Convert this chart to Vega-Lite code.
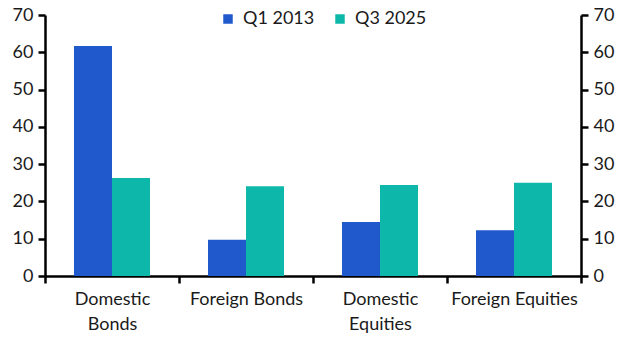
{
  "$schema": "https://vega.github.io/schema/vega-lite/v6.json",
  "autosize": "none",
  "width": 536,
  "height": 261,
  "padding": {"left": 45, "top": 15, "right": 48, "bottom": 78},
  "background": "white",
  "config": {
    "font": "Lato",
    "view": {"stroke": null},
    "axis": {"labelFont": "Lato", "labelFontSize": 18, "labelColor": "#1a1a1a", "domainColor": "black", "tickColor": "black", "grid": false, "title": null},
    "legend": {"labelFont": "Lato", "labelFontSize": 18, "labelColor": "#1a1a1a"}
  },
  "data": {
    "values": [
      {"cat": "Domestic Bonds", "series": "Q1 2013", "v": 61.7},
      {"cat": "Domestic Bonds", "series": "Q3 2025", "v": 26.3},
      {"cat": "Foreign Bonds", "series": "Q1 2013", "v": 9.7},
      {"cat": "Foreign Bonds", "series": "Q3 2025", "v": 24.1},
      {"cat": "Domestic Equities", "series": "Q1 2013", "v": 14.5},
      {"cat": "Domestic Equities", "series": "Q3 2025", "v": 24.4},
      {"cat": "Foreign Equities", "series": "Q1 2013", "v": 12.3},
      {"cat": "Foreign Equities", "series": "Q3 2025", "v": 25.0}
    ]
  },
  "encoding": {
    "x": {
      "field": "cat", "type": "nominal", "sort": null,
      "scale": {"paddingInner": 0, "paddingOuter": 0},
      "axis": {
        "labelAngle": 0, "domainWidth": 2.5, "tickWidth": 2.5, "tickSize": 7, "tickBand": "extent",
        "labelPadding": 7, "labelLineHeight": 25, "labelBaseline": "top",
        "labelExpr": "datum.value == 'Domestic Bonds' ? ['Domestic', 'Bonds'] : datum.value == 'Domestic Equities' ? ['Domestic', 'Equities'] : datum.value"
      }
    },
    "xOffset": {"field": "series", "type": "nominal", "scale": {"paddingInner": 0, "paddingOuter": 0.763}},
    "y": {"field": "v", "type": "quantitative", "scale": {"domain": [0, 70]}}
  },
  "layer": [
    {
      "mark": {"type": "bar"},
      "encoding": {
        "y": {"field": "v", "type": "quantitative", "scale": {"domain": [0, 70]},
          "axis": {"orient": "left", "values": [0,10,20,30,40,50,60,70], "domainWidth": 2.5, "tickWidth": 2.5, "tickSize": 7, "labelPadding": 5}},
        "color": {"field": "series", "type": "nominal",
          "scale": {"domain": ["Q1 2013", "Q3 2025"], "range": ["#1f59cc", "#0db8aa"]},
          "legend": {"orient": "none", "legendX": 174, "legendY": -5, "direction": "horizontal", "title": null, "symbolType": "square", "symbolSize": 90, "symbolStrokeWidth": 0, "symbolOpacity": 1, "columnPadding": 16, "labelOffset": 6}}
      }
    },
    {
      "mark": {"type": "bar", "opacity": 0},
      "encoding": {
        "y": {"field": "v", "type": "quantitative", "scale": {"domain": [0, 70]},
          "axis": {"orient": "right", "values": [0,10,20,30,40,50,60,70], "domainWidth": 2.5, "tickWidth": 2.5, "tickSize": 7, "labelPadding": 5}}
      }
    }
  ],
  "resolve": {"axis": {"y": "independent"}}
}
